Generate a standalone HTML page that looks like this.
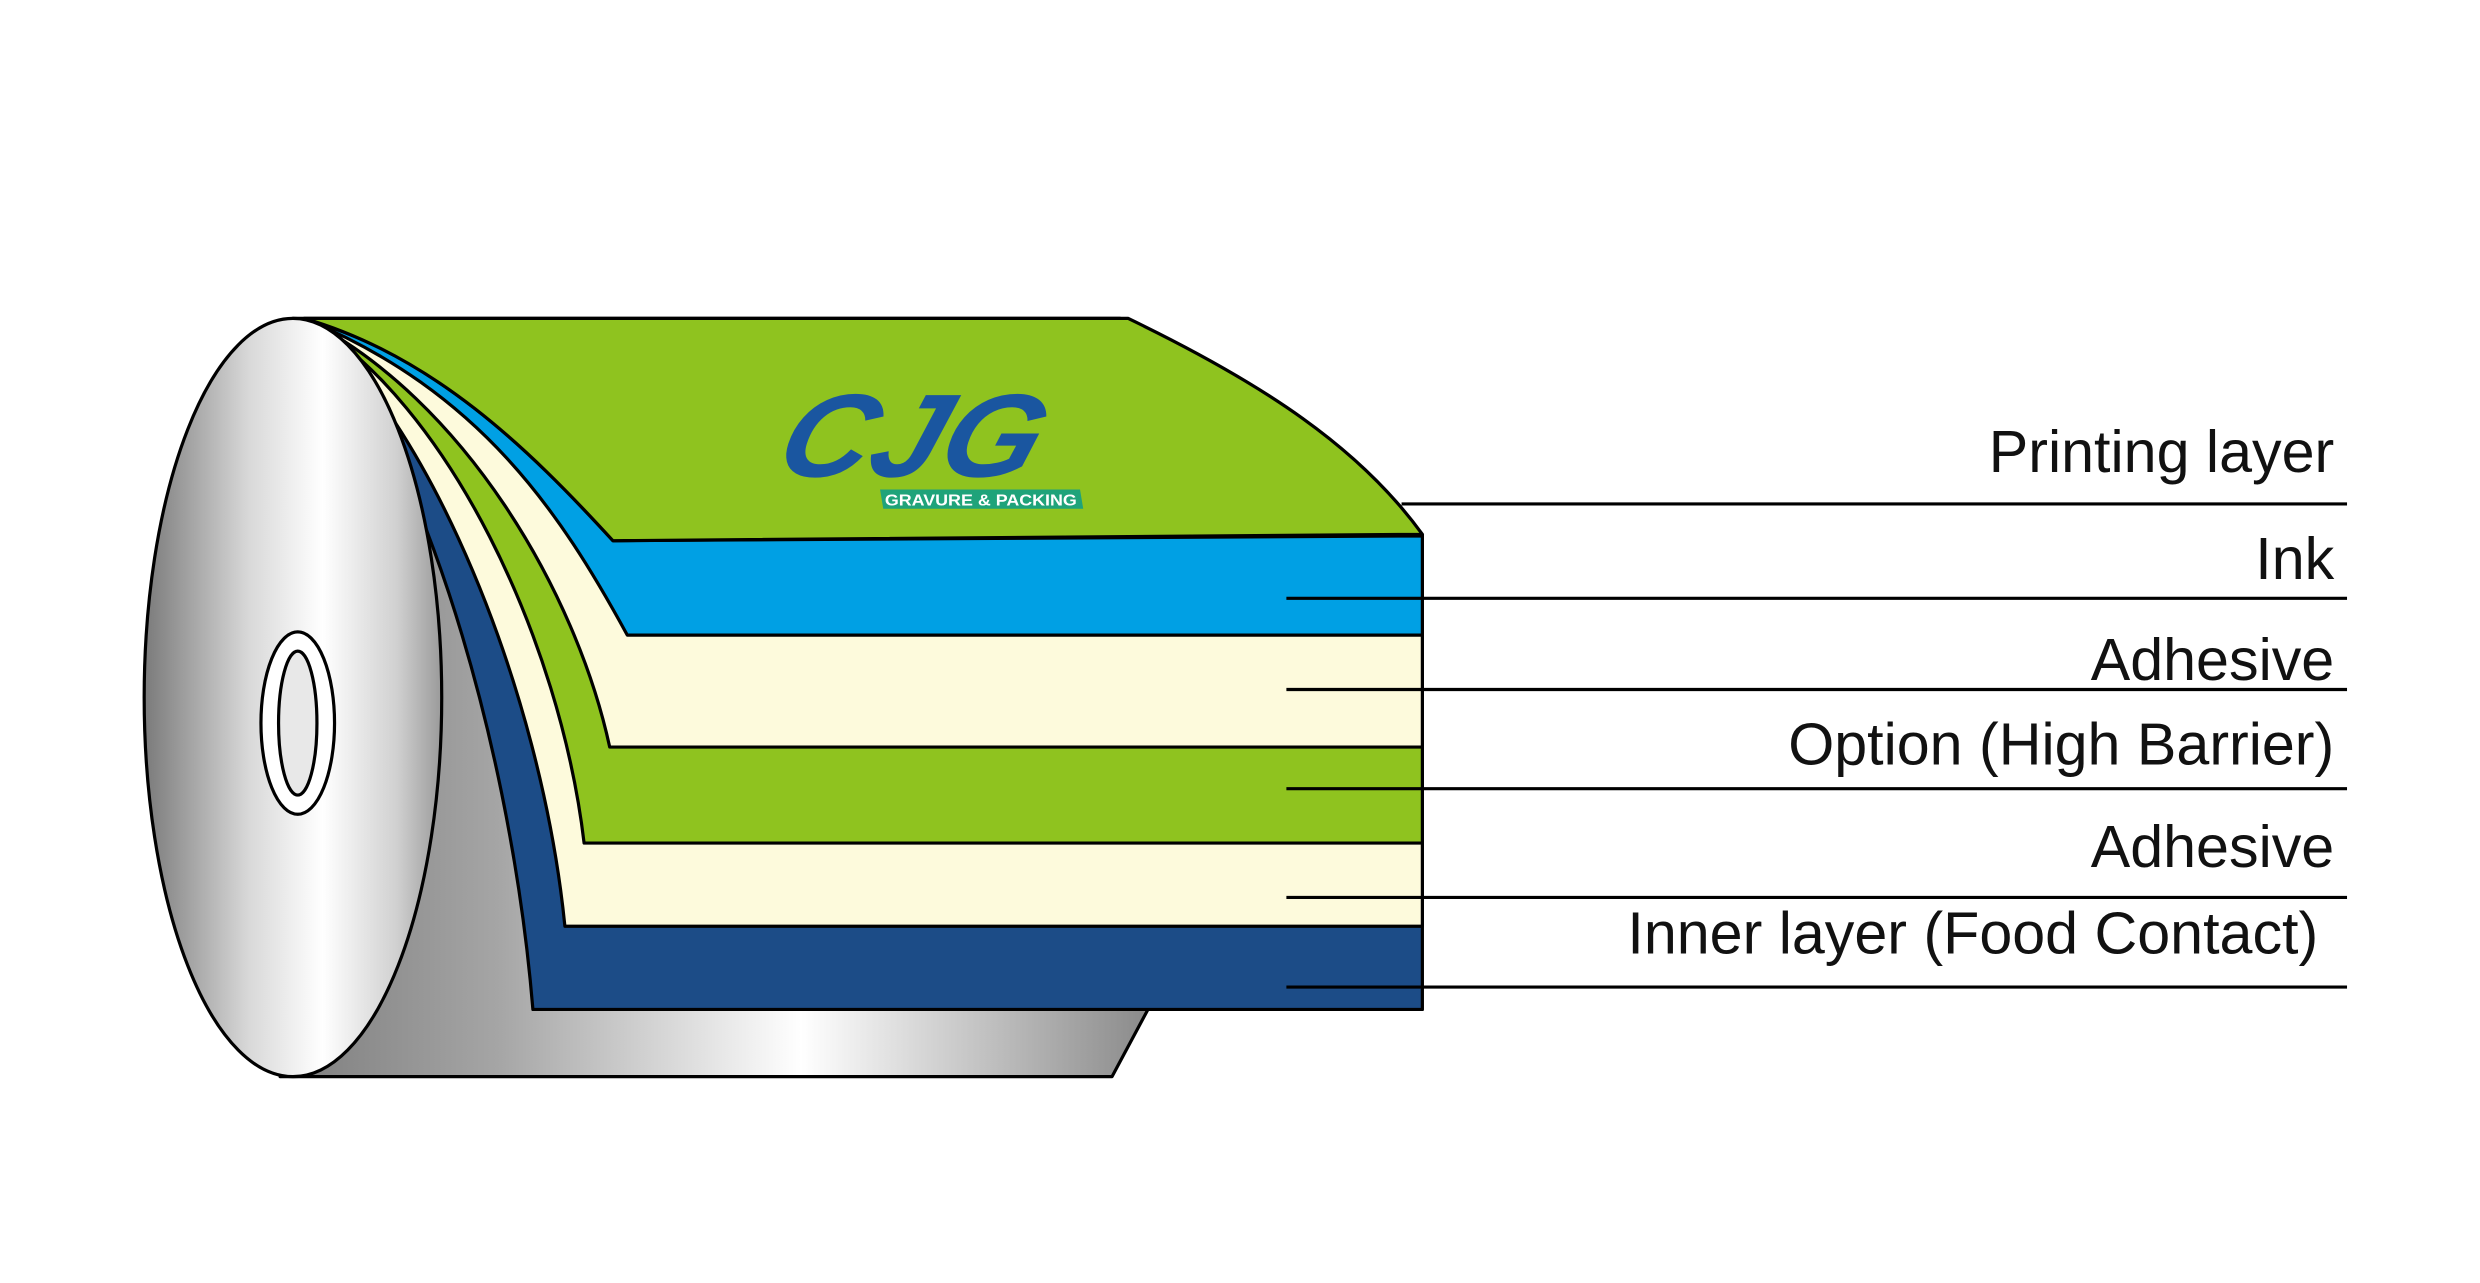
<!DOCTYPE html>
<html><head><meta charset="utf-8"><style>
html,body{margin:0;padding:0;background:#fff;}
svg{display:block;}
</style></head><body>
<svg width="2480" height="1283" viewBox="0 0 1550 802" xmlns="http://www.w3.org/2000/svg">
<defs>
<linearGradient id="body" x1="175" y1="0" x2="718" y2="0" gradientUnits="userSpaceOnUse">
<stop offset="0" stop-color="#7d7d7d"/><stop offset="0.25" stop-color="#a5a5a5"/><stop offset="0.6" stop-color="#ffffff"/><stop offset="1" stop-color="#8a8a8a"/>
</linearGradient>
<linearGradient id="face" x1="90" y1="0" x2="276" y2="0" gradientUnits="userSpaceOnUse">
<stop offset="0" stop-color="#7a7a7a"/><stop offset="0.35" stop-color="#d8d8d8"/><stop offset="0.6" stop-color="#ffffff"/><stop offset="0.85" stop-color="#d0d0d0"/><stop offset="1" stop-color="#9a9a9a"/>
</linearGradient>
</defs>
<g stroke="#000" stroke-width="2" stroke-linejoin="round">
<path d="M183,199 L700,199 L718,630 L695,673 L175,673 Z" fill="url(#body)"/>
<path d="M192,200 C255,262 318,450 333,631 L889,631 L889,335 L383,338 C330,280 270,222 192,200 Z" fill="#1c4c87"/>
<path d="M192,200 C268,262 338,430 353,579 L889,579 L889,335 L383,338 C330,280 270,222 192,200 Z" fill="#fdfadc"/>
<path d="M192,200 C280,252 350,400 365,527 L889,527 L889,335 L383,338 C330,280 270,222 192,200 Z" fill="#8fc31f"/>
<path d="M192,200 C290,250 360,370 381,467 L889,467 L889,335 L383,338 C330,280 270,222 192,200 Z" fill="#fdfadc"/>
<path d="M192,200 C300,245 350,320 392,397 L889,397 L889,335 L383,338 C330,280 270,222 192,200 Z" fill="#00a0e4"/>
<path d="M190,199 L705,199 C790,240 850,280 889,334 L383,338 C330,280 270,222 190,199 Z" fill="#8fc31f"/>
<ellipse cx="183" cy="436" rx="93" ry="237" fill="url(#face)"/>
<ellipse cx="186" cy="452" rx="23" ry="57" fill="#fff"/>
<ellipse cx="186" cy="452" rx="12" ry="45" fill="#e8e8e8"/>
</g>
<g stroke="#000" stroke-width="2">
<line x1="876" y1="315" x2="1467" y2="315"/>
<line x1="804" y1="374" x2="1467" y2="374"/>
<line x1="804" y1="431" x2="1467" y2="431"/>
<line x1="804" y1="493" x2="1467" y2="493"/>
<line x1="804" y1="561" x2="1467" y2="561"/>
<line x1="804" y1="617" x2="1467" y2="617"/>
</g>
<g font-family="'Liberation Sans',sans-serif" font-size="37" fill="#111" text-anchor="end">
<text x="1459" y="295">Printing layer</text>
<text x="1459" y="362">Ink</text>
<text x="1459" y="425">Adhesive</text>
<text x="1459" y="478">Option (High Barrier)</text>
<text x="1459" y="542">Adhesive</text>
<text x="1449" y="596">Inner layer (Food Contact)</text>
</g>
<text x="483" y="298" font-family="'Liberation Sans',sans-serif" font-weight="bold" font-style="italic" font-size="74" fill="#1a56a0" transform="skewX(-18) translate(96,0)" textLength="162" lengthAdjust="spacingAndGlyphs">CJG</text>
<polygon points="550,306 675,306 677,318 552,318" fill="#1fa37a"/>
<text x="553" y="316" font-family="'Liberation Sans',sans-serif" font-weight="bold" font-size="10" fill="#fff" textLength="120" lengthAdjust="spacingAndGlyphs">GRAVURE &amp; PACKING</text>
</svg>
</body></html>
